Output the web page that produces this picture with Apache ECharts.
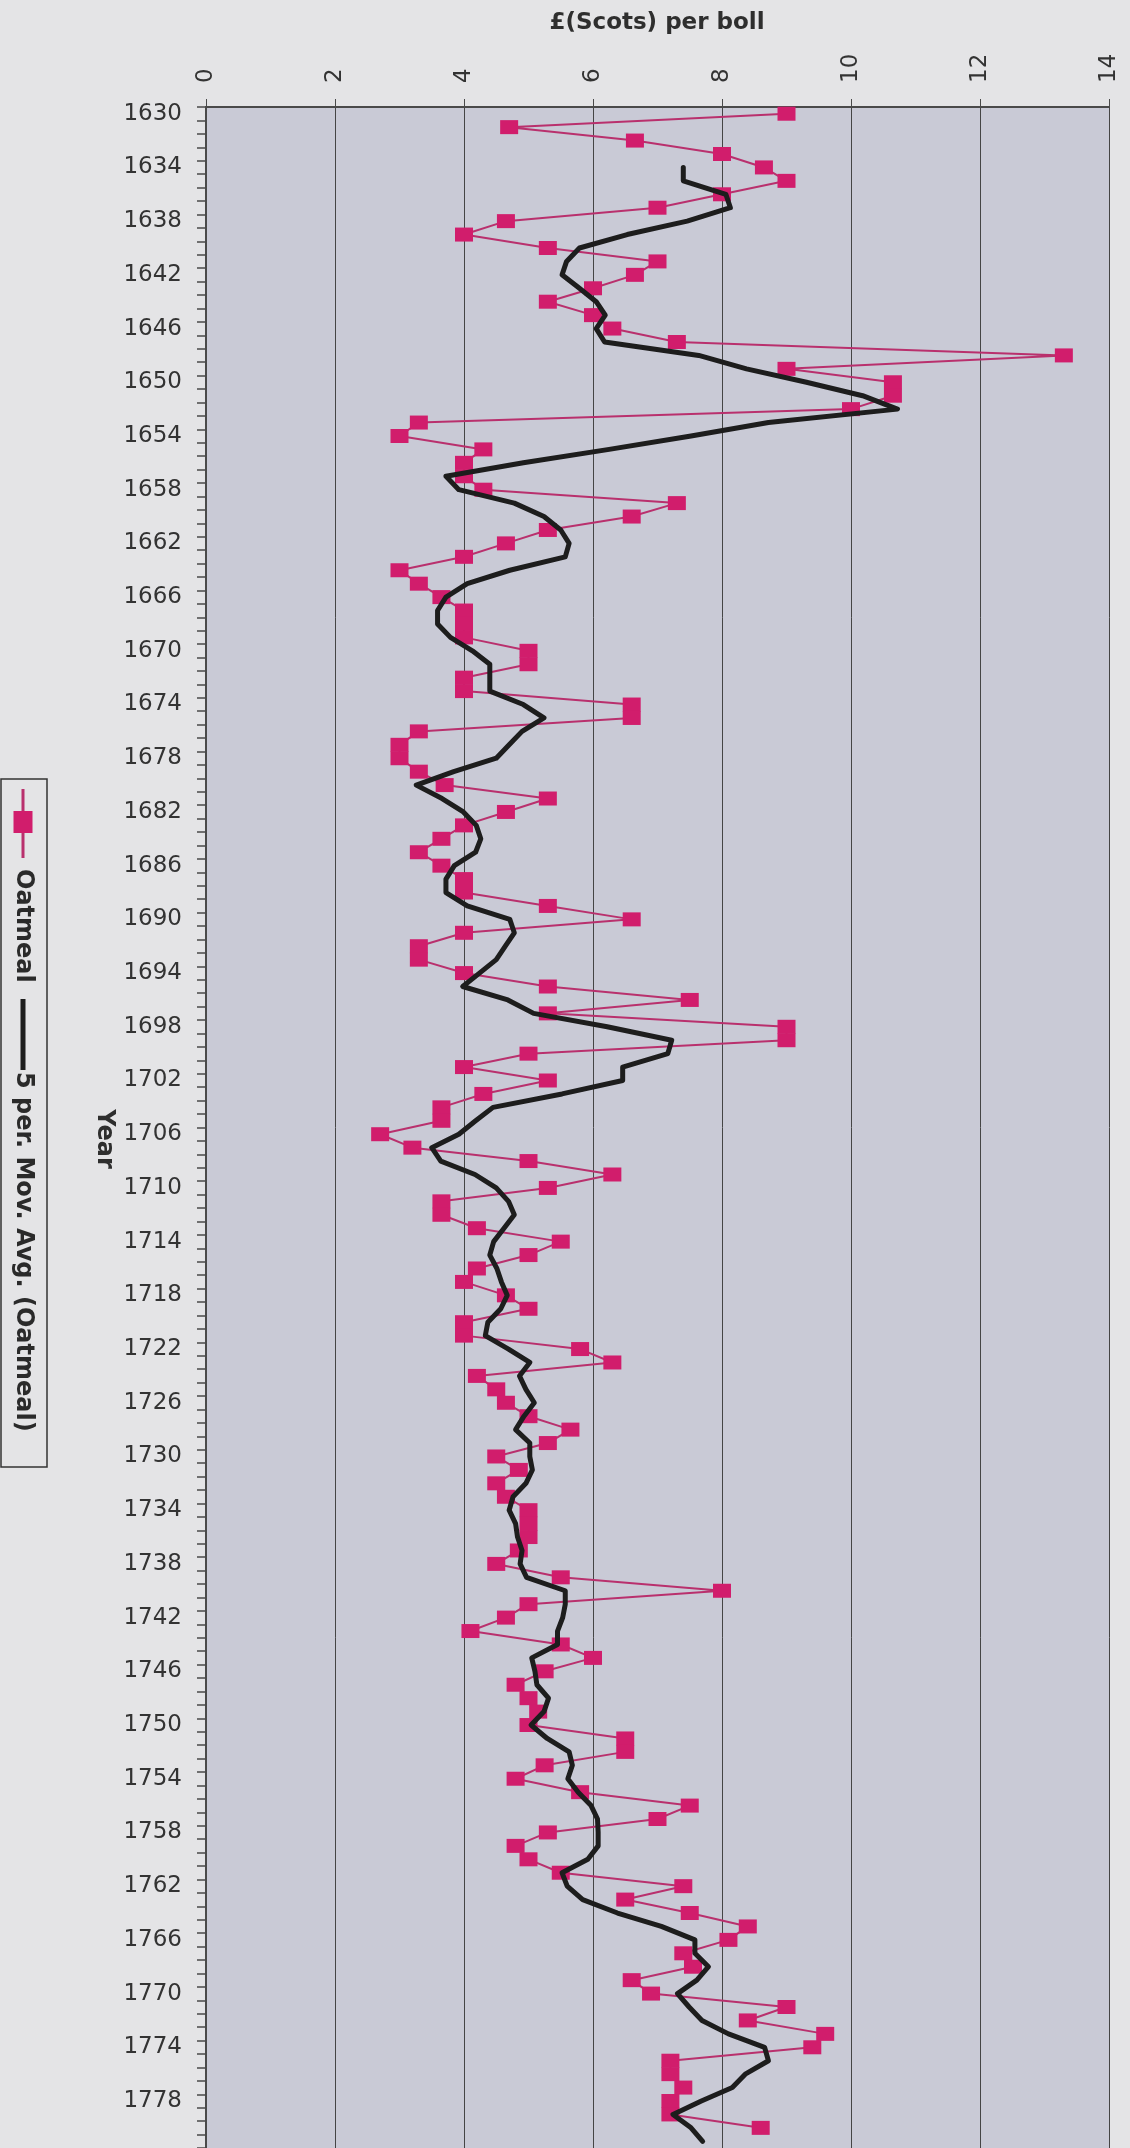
<!DOCTYPE html>
<html>
<head>
<meta charset="utf-8">
<script src="https://cdn.jsdelivr.net/npm/echarts@6/dist/echarts.min.js"></script>
<style>
  html, body { margin: 0; padding: 0; background: #e4e4e6; }
  #chart { width: 1130px; height: 2148px; }
</style>
</head>
<body>
<div id="chart"></div>
<script>
// ---- data ----
const years = [
  '1630','1631','1632','1633','1634','1635','1636','1637','1638','1639',
  '1640','1641','1642','1643','1644','1645','1646','1647','1648','1649',
  '1650','1651','1652','1653','1654','1655','1656','1657','1658','1659',
  '1660','1661','1662','1663','1664','1665','1666','1667','1668','1669',
  '1670','1671','1672','1673','1674','1675','1676','1677','1678','1679',
  '1680','1681','1682','1683','1684','1685','1686','1687','1688','1689',
  '1690','1691','1692','1693','1694','1695','1696','1697','1698','1699',
  '1700','1701','1702','1703','1704','1705','1706','1707','1708','1709',
  '1710','1711','1712','1713','1714','1715','1716','1717','1718','1719',
  '1720','1721','1722','1723','1724','1725','1726','1727','1728','1729',
  '1730','1731','1732','1733','1734','1735','1736','1737','1738','1739',
  '1740','1741','1742','1743','1744','1745','1746','1747','1748','1749',
  '1750','1751','1752','1753','1754','1755','1756','1757','1758','1759',
  '1760','1761','1762','1763','1764','1765','1766','1767','1768','1769',
  '1770','1771','1772','1773','1774','1775','1776','1777','1778','1779',
  '1780','1781'
];

const oatmeal = [
  9.0, 4.7, 6.65, 8.0, 8.65, 9.0, 8.0, 7.0, 4.65, 4.0,
  5.3, 7.0, 6.65, 6.0, 5.3, 6.0, 6.3, 7.3, 13.3, 9.0,
  10.65, 10.65, 10.0, 3.3, 3.0, 4.3, 4.0, 4.0, 4.3, 7.3,
  6.6, 5.3, 4.65, 4.0, 3.0, 3.3, 3.65, 4.0, 4.0, 4.0,
  5.0, 5.0, 4.0, 4.0, 6.6, 6.6, 3.3, 3.0, 3.0, 3.3,
  3.7, 5.3, 4.65, 4.0, 3.65, 3.3, 3.65, 4.0, 4.0, 5.3,
  6.6, 4.0, 3.3, 3.3, 4.0, 5.3, 7.5, 5.3, 9.0, 9.0,
  5.0, 4.0, 5.3, 4.3, 3.65, 3.65, 2.7, 3.2, 5.0, 6.3,
  5.3, 3.65, 3.65, 4.2, 5.5, 5.0, 4.2, 4.0, 4.65, 5.0,
  4.0, 4.0, 5.8, 6.3, 4.2, 4.5, 4.65, 5.0, 5.65, 5.3,
  4.5, 4.85, 4.5, 4.65, 5.0, 5.0, 5.0, 4.85, 4.5, 5.5,
  8.0, 5.0, 4.65, 4.1, 5.5, 6.0, 5.25, 4.8, 5.0, 5.15,
  5.0, 6.5, 6.5, 5.25, 4.8, 5.8, 7.5, 7.0, 5.3, 4.8,
  5.0, 5.5, 7.4, 6.5, 7.5, 8.4, 8.1, 7.4, 7.55, 6.6,
  6.9, 9.0, 8.4, 9.6, 9.4, 7.2, 7.2, 7.4, 7.2, 7.2,
  8.6, null
];

const movAvg = [
  null, null, null, null, 7.40, 7.40, 8.06, 8.13, 7.46, 6.53,
  5.79, 5.59, 5.52, 5.79, 6.05, 6.19, 6.05, 6.18, 7.64, 8.38,
  9.31, 10.18, 10.72, 8.72, 7.52, 6.25, 4.92, 3.72, 3.92, 4.78,
  5.24, 5.50, 5.63, 5.57, 4.71, 4.05, 3.72, 3.59, 3.59, 3.79,
  4.13, 4.40, 4.40, 4.40, 4.92, 5.24, 4.90, 4.70, 4.50, 3.84,
  3.26, 3.66, 3.99, 4.19, 4.26, 4.18, 3.85, 3.72, 3.72, 4.05,
  4.71, 4.78, 4.64, 4.50, 4.24, 3.98, 4.68, 5.08, 6.22, 7.22,
  7.16, 6.46, 6.46, 5.52, 4.45, 4.18, 3.92, 3.50, 3.64, 4.17,
  4.50, 4.69, 4.78, 4.62, 4.46, 4.40, 4.51, 4.58, 4.67, 4.57,
  4.37, 4.33, 4.69, 5.02, 4.86, 4.96, 5.09, 4.93, 4.80, 5.02,
  5.02, 5.06, 4.96, 4.76, 4.70, 4.80, 4.83, 4.90, 4.87, 4.97,
  5.57, 5.57, 5.53, 5.45, 5.45, 5.05, 5.10, 5.13, 5.31, 5.24,
  5.04, 5.29, 5.63, 5.68, 5.61, 5.77, 5.97, 6.07, 6.08, 6.08,
  5.92, 5.52, 5.60, 5.84, 6.38, 7.06, 7.58, 7.58, 7.79, 7.61,
  7.31, 7.49, 7.69, 8.10, 8.66, 8.72, 8.36, 8.16, 7.68, 7.24,
  7.52, 7.7
];

const valueTicks = { min: 0, max: 14, interval: 2 };
const titleText = '£(Scots) per boll';
const yearTitle = 'Year';
const legendNames = ['Oatmeal', '5 per. Mov. Avg. (Oatmeal)'];

// ---- chart ----
const FONT = "'DejaVu Sans', Verdana, sans-serif";
const chart = echarts.init(document.getElementById('chart'), null, { renderer: 'canvas' });

const oatData = years.map((y, i) => [oatmeal[i], y]);
const maData = years.map((y, i) => [movAvg[i], y]);

const option = {
  backgroundColor: '#e4e4e6',
  animation: false,
  grid: {
    left: 206, right: 21, top: 107, bottom: -3,
    show: true, backgroundColor: '#c9cad6', borderWidth: 0
  },
  xAxis: {
    type: 'value', position: 'top',
    min: valueTicks.min, max: valueTicks.max, interval: valueTicks.interval,
    axisLine: { show: true, lineStyle: { color: '#4a4a4a', width: 2 } },
    axisTick: { show: true, length: 8, lineStyle: { color: '#4a4a4a' } },
    axisLabel: { rotate: -90, margin: 24, fontSize: 23, color: '#333', fontFamily: FONT },
    splitLine: { show: true, lineStyle: { color: '#454545', width: 1 } }
  },
  yAxis: {
    type: 'category', inverse: true, data: years, boundaryGap: true,
    axisLine: { show: true, lineStyle: { color: '#4a4a4a', width: 2 } },
    axisTick: { show: true, interval: 0, alignWithLabel: false, length: 9, lineStyle: { color: '#4a4a4a', width: 1.5 } },
    axisLabel: { interval: 3, margin: 24, fontSize: 23, color: '#333', fontFamily: FONT },
    splitLine: { show: false }
  },
  series: [
    {
      name: legendNames[0], type: 'line', data: oatData,
      symbol: 'rect', symbolSize: [18, 14], showAllSymbol: true,
      itemStyle: { color: '#d11d6c' },
      lineStyle: { color: '#b9306d', width: 2 },
      connectNulls: false, z: 2
    },
    {
      name: legendNames[1], type: 'line', data: maData,
      symbol: 'none', smooth: false,
      lineStyle: { color: '#1d1d1d', width: 5, join: 'round', cap: 'round' },
      connectNulls: false, z: 3
    }
  ],
  graphic: [
    {
      type: 'text', x: 657, y: 23,
      style: { text: titleText, font: 'bold 23px ' + FONT, fill: '#2e2e2e', textAlign: 'center', verticalAlign: 'middle' }
    },
    {
      type: 'text', x: 104, y: 1139, rotation: -Math.PI / 2,
      style: { text: yearTitle, font: 'bold 24px ' + FONT, fill: '#2e2e2e', textAlign: 'center', verticalAlign: 'middle' }
    },
    {
      type: 'group', x: 23, y: 779, rotation: -Math.PI / 2,
      children: [
        { type: 'rect', shape: { x: 0, y: -24, width: 688, height: 46 },
          style: { fill: 'rgba(0,0,0,0)', stroke: '#333', lineWidth: 1.5 } },
        { type: 'line', shape: { x1: 10, y1: 0, x2: 79, y2: 0 },
          style: { stroke: '#b9306d', lineWidth: 3 } },
        { type: 'rect', shape: { x: 32, y: -9.5, width: 22, height: 19 },
          style: { fill: '#d11d6c' } },
        { type: 'text', x: 90, y: 0,
          style: { text: legendNames[0], font: 'bold 24px ' + FONT, fill: '#2a2a2a', textAlign: 'left', verticalAlign: 'middle' } },
        { type: 'line', shape: { x1: 220, y1: 0, x2: 291, y2: 0 },
          style: { stroke: '#1d1d1d', lineWidth: 5 } },
        { type: 'text', x: 293, y: 0,
          style: { text: legendNames[1], font: 'bold 24px ' + FONT, fill: '#2a2a2a', textAlign: 'left', verticalAlign: 'middle' } }
      ]
    }
  ]
};
chart.setOption(option);
</script>
</body>
</html>
